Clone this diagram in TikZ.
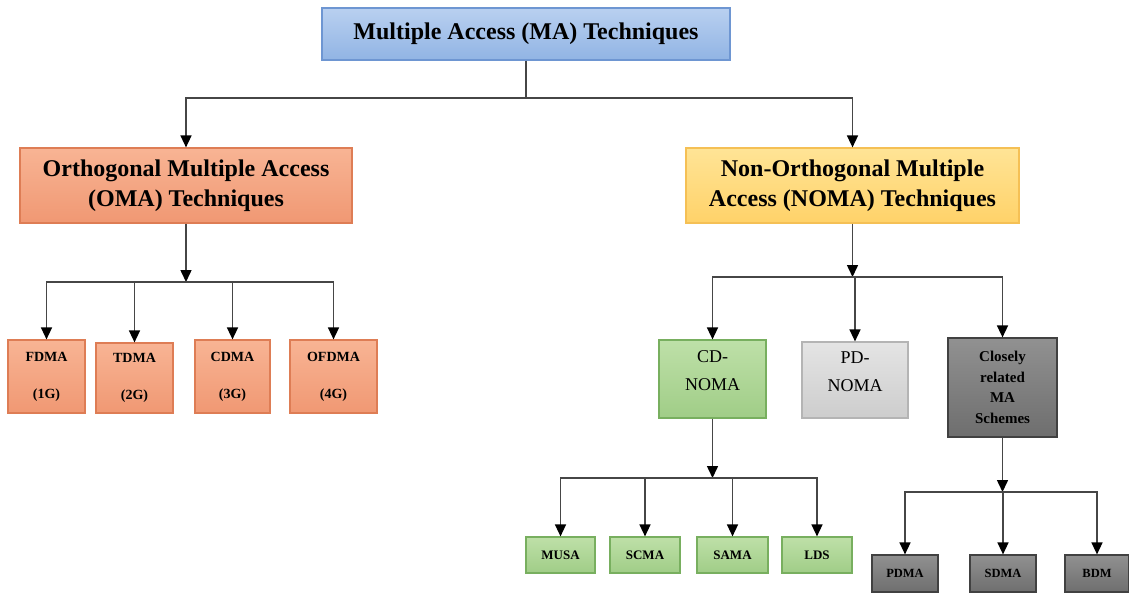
\documentclass[tikz,border=0pt]{standalone}
\usepackage{fontspec}
\setmainfont{Liberation Serif}
\usetikzlibrary{arrows.meta}

\definecolor{maedge}{RGB}{110,150,210}
\definecolor{matop}{RGB}{185,208,240}
\definecolor{mabot}{RGB}{145,180,228}
\definecolor{omaedge}{RGB}{222,125,85}
\definecolor{omatop}{RGB}{248,180,148}
\definecolor{omabot}{RGB}{240,152,115}
\definecolor{nomaedge}{RGB}{245,192,85}
\definecolor{nomatop}{RGB}{255,228,150}
\definecolor{nomabot}{RGB}{255,210,105}
\definecolor{cdedge}{RGB}{120,175,95}
\definecolor{cdtop}{RGB}{190,224,168}
\definecolor{cdbot}{RGB}{160,205,135}
\definecolor{pdedge}{RGB}{180,180,180}
\definecolor{pdtop}{RGB}{228,228,228}
\definecolor{pdbot}{RGB}{205,205,205}
\definecolor{dkedge}{RGB}{65,65,65}
\definecolor{dktop}{RGB}{145,145,145}
\definecolor{dkbot}{RGB}{110,110,110}
\definecolor{linkgray}{RGB}{70,70,70}

\begin{document}
\begin{tikzpicture}[x=1pt,y=-1pt,>={Triangle[length=12pt,width=11pt,color=black]},
  box/.style={draw,line width=1.2pt,align=center,inner sep=0pt},
  ma node/.style={box,draw=maedge,top color=matop,bottom color=mabot,
    minimum width=408pt,minimum height=52pt,font=\fontsize{24}{26}\selectfont\bfseries},
  oma node/.style={box,draw=omaedge,top color=omatop,bottom color=omabot,
    minimum width=332pt,minimum height=75pt,font=\fontsize{24}{30}\selectfont\bfseries},
  noma node/.style={box,draw=nomaedge,top color=nomatop,bottom color=nomabot,
    minimum width=333pt,minimum height=75pt,font=\fontsize{24}{30}\selectfont\bfseries},
  gen node/.style={box,draw=omaedge,top color=omatop,bottom color=omabot,
    minimum height=73pt,font=\fontsize{14}{37}\selectfont\bfseries},
  cd node/.style={box,draw=cdedge,top color=cdtop,bottom color=cdbot,
    minimum width=107pt,minimum height=78pt,text height=40pt,text depth=18pt,
    font=\fontsize{18}{28}\selectfont},
  pd node/.style={box,draw=pdedge,top color=pdtop,bottom color=pdbot,
    minimum width=106pt,minimum height=76pt,text height=40pt,text depth=18pt,
    font=\fontsize{18}{28}\selectfont},
  dk node/.style={box,draw=dkedge,top color=dktop,bottom color=dkbot,
    minimum width=109pt,minimum height=99pt,font=\fontsize{15}{20.5}\selectfont\bfseries},
  leaf node/.style={box,draw=cdedge,top color=cdtop,bottom color=cdbot,
    minimum width=70pt,minimum height=36pt,font=\fontsize{13}{14}\selectfont\bfseries},
  dkleaf node/.style={box,draw=dkedge,top color=dktop,bottom color=dkbot,
    minimum width=66pt,minimum height=37pt,font=\fontsize{12.5}{14}\selectfont\bfseries},
  link/.style={draw=linkgray,line width=1.5pt}]
  \useasboundingbox (0,0) rectangle (1129,592);

  % top levels
  \node[ma node] (ma) at (526,34) {Multiple Access (MA) Techniques};
  \node[oma node] (oma) at (186,185.5) {Orthogonal Multiple Access\\(OMA) Techniques};
  \node[noma node] (noma) at (852.5,185.5) {Non-Orthogonal Multiple\\Access (NOMA) Techniques};

  % OMA generations
  \node[gen node,minimum width=77pt] (fdma) at (46.5,376.5) {FDMA\\(1G)};
  \node[gen node,minimum width=77pt,minimum height=70pt] (tdma) at (134.5,378) {TDMA\\(2G)};
  \node[gen node,minimum width=75pt] (cdma) at (232.5,376.5) {CDMA\\(3G)};
  \node[gen node,minimum width=87pt] (ofdma) at (333.5,376.5) {OFDMA\\(4G)};

  % NOMA families
  \node[cd node] (cdnoma) at (712.5,379) {CD-\\NOMA};
  \node[pd node] (pdnoma) at (855,380) {PD-\\NOMA};
  \node[dk node] (closely) at (1002.5,387.5) {Closely\\related\\MA\\Schemes};

  % leaves
  \node[leaf node,minimum width=69pt] (musa) at (560.5,555) {MUSA};
  \node[leaf node] (scma) at (645,555) {SCMA};
  \node[leaf node,minimum width=71pt] (sama) at (732.5,555) {SAMA};
  \node[leaf node] (lds) at (817,555) {LDS};
  \node[dkleaf node] (pdma) at (905,573.5) {PDMA};
  \node[dkleaf node] (sdma) at (1003,573.5) {SDMA};
  \node[dkleaf node,minimum width=64pt] (bdm) at (1097,573.5) {BDM};

  % branch points
  \coordinate (j0) at (526,98);
  \coordinate (j1) at (186,282);
  \coordinate (j2) at (852.5,277);
  \coordinate (j3) at (712.5,478);
  \coordinate (j4) at (1002.5,492);

  \draw[link] (ma) -- (j0);
  \draw[link,->] (j0) -| (oma);
  \draw[link,->] (j0) -| (noma);

  \draw[link,->] (oma) -- (j1);
  \foreach \n in {fdma,tdma,cdma,ofdma}
    \draw[link,->] (j1) -| (\n);

  \draw[link,->] (noma) -- (j2);
  \foreach \n in {cdnoma,pdnoma,closely}
    \draw[link,->] (j2) -| (\n);

  \draw[link,->] (cdnoma) -- (j3);
  \foreach \n in {musa,scma,sama,lds}
    \draw[link,->] (j3) -| (\n);

  \draw[link,->] (closely) -- (j4);
  \foreach \n in {pdma,sdma,bdm}
    \draw[link,->] (j4) -| (\n);
\end{tikzpicture}
\end{document}
